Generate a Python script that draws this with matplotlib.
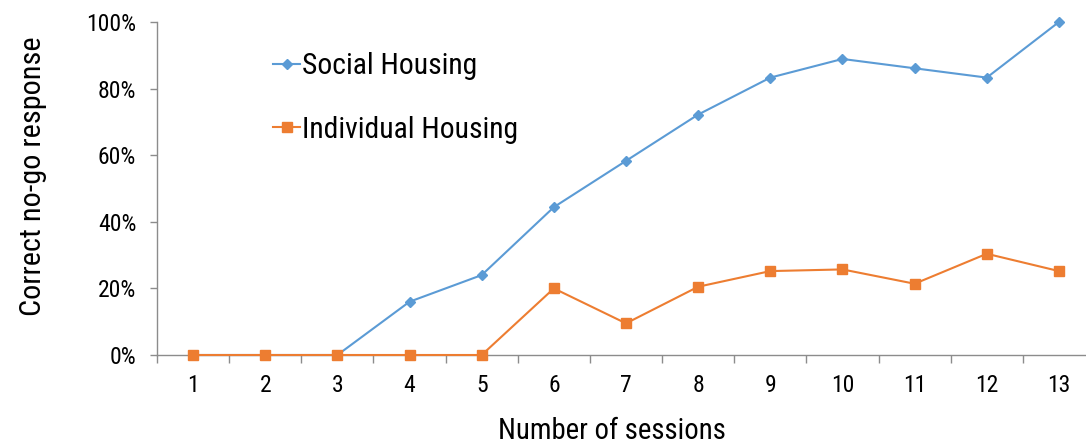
import matplotlib
matplotlib.use("Agg")
import matplotlib.pyplot as plt
from matplotlib.ticker import FixedLocator, PercentFormatter

plt.rcParams['font.family'] = ['Roboto Condensed', 'Liberation Sans', 'DejaVu Sans']

sessions = [1, 2, 3, 4, 5, 6, 7, 8, 9, 10, 11, 12, 13]
social_housing = [0, 0, 0, 16, 24, 44.4, 58.3, 72.2, 83.3, 88.9, 86.1, 83.3, 100]
individual_housing = [0, 0, 0, 0, 0, 20, 9.5, 20.5, 25.2, 25.7, 21.4, 30.4, 25.2]
y_ticks = [0, 20, 40, 60, 80, 100]

BLUE = "#5B9BD5"
ORANGE = "#ED7D31"
AXIS = "#8C8C8C"

fig = plt.figure(figsize=(10.86, 4.45), dpi=100)
ax = fig.add_axes([157 / 1086, 90 / 445, 938 / 1086, 333 / 445])

ax.plot(sessions, social_housing, color=BLUE, lw=1.5, marker="D", ms=5,
        mec=BLUE, mfc=BLUE, label="Social Housing", zorder=3, clip_on=False)
ax.plot(sessions, individual_housing, color=ORANGE, lw=1.5, marker="s", ms=6.5,
        mec=ORANGE, mfc=ORANGE, label="Individual Housing", zorder=3, clip_on=False)

ax.set_xlim(0.5, 13.5)
ax.set_ylim(0, 100)

# category axis: labels at the centres, tick marks between categories
ax.set_xticks(sessions)
ax.set_xticklabels([str(s) for s in sessions])
ax.xaxis.set_minor_locator(FixedLocator([s - 0.5 for s in sessions] + [13.5]))
ax.tick_params(axis="x", which="major", length=0, pad=14, labelsize=17)
ax.tick_params(axis="x", which="minor", length=5.5, width=1, color=AXIS, direction="out")

ax.set_yticks(y_ticks)
ax.yaxis.set_major_formatter(PercentFormatter(decimals=0))
ax.tick_params(axis="y", length=5, width=1, color=AXIS, direction="out", pad=10, labelsize=17)

for side in ("top", "right"):
    ax.spines[side].set_visible(False)
for side in ("left", "bottom"):
    ax.spines[side].set_color(AXIS)
    ax.spines[side].set_linewidth(1)

ax.set_xlabel("Number of sessions", fontsize=20.7)
ax.xaxis.set_label_coords(0.485, -0.185, transform=ax.transAxes)
ax.set_ylabel("Correct no-go response", fontsize=21.8)
ax.yaxis.set_label_coords(-0.117, 0.5375, transform=ax.transAxes)

leg = ax.legend(loc="upper left", bbox_to_anchor=(0.111, 0.945), frameon=False,
                fontsize=21.3, handlelength=0.93, handletextpad=0.05,
                labelspacing=1.2, borderaxespad=0)

fig.savefig("out.png", dpi=100)
